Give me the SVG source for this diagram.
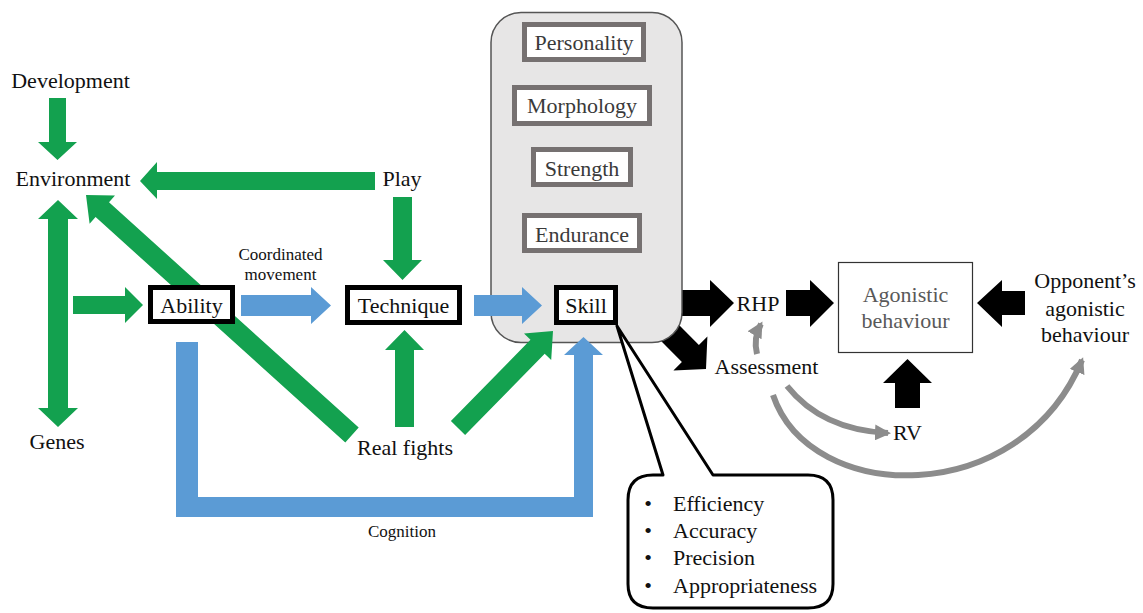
<svg xmlns="http://www.w3.org/2000/svg" width="1143" height="613" viewBox="0 0 1143 613" font-family="Liberation Serif, Times New Roman, Tinos, DejaVu Serif, Noto Serif, serif">
<style>
text{font-size:22px;fill:#111;text-anchor:middle}
.sm{font-size:17px}
.g{fill:#13a14f}
.b{fill:#5b9bd5}
.k{fill:#000}
.inner{fill:#fff;stroke:#767171;stroke-width:5}
.itx{fill:#3a3a3a}
.node{fill:#fff;stroke:#000;stroke-width:5}
.cur{fill:none;stroke:#8c8c8c;stroke-width:6}
.lft{text-anchor:start}
.agt{fill:#595959}
</style>
<defs>
<marker id="gh" markerUnits="userSpaceOnUse" viewBox="0 0 16 16" markerWidth="16" markerHeight="16" refX="13" refY="8" orient="auto">
<path d="M0,0 L16,8 L0,16 Z" fill="#8c8c8c"/>
</marker>
</defs>
<rect width="1143" height="613" fill="#fff"/>

<g id="connectors-back">
<polygon class="k" points="706,369 707.4,336.4 698.9,344.9 667.1,313.1 650.1,330.1 681.9,361.9 673.4,370.4"/>
<path class="k" d="M676 290 L710 290 L710 280 L734 303 L710 327 L710 316 L676 316 Z"/>
</g>

<g id="panel">
<rect x="491" y="12.5" width="191" height="330" rx="30" fill="#e7e6e6" stroke="#555" stroke-width="1.5"/>
</g>
<g font-family="Liberation Serif, Times New Roman, Tinos, DejaVu Serif, Noto Serif, serif">
<g id="personality"><rect class="inner" x="524.5" y="24.5" width="119" height="35"/><text class="itx" x="584" y="50">Personality</text></g>
<g id="morphology"><rect class="inner" x="514.5" y="87.5" width="135" height="36"/><text class="itx" x="582" y="113">Morphology</text></g>
<g id="strength"><rect class="inner" x="533.5" y="149.5" width="97" height="35"/><text class="itx" x="582" y="176">Strength</text></g>
<g id="endurance"><rect class="inner" x="524.5" y="215.5" width="115" height="35"/><text class="itx" x="582" y="242">Endurance</text></g>

<g id="connectors">
<path class="g" d="M49 98 L66 98 L66 142 L77 142 L57.5 160 L38 142 L49 142 Z"/>
<path class="g" d="M375 172 L157 172 L157 162 L140 181 L157 199 L157 190 L375 190 Z"/>
<path class="g" d="M58 200 L78 219 L68 219 L68 408 L78 408 L58 427 L38 408 L48 408 L48 219 L38 219 Z"/>
<path class="g" d="M73 296 L125 296 L125 287 L143 305 L125 323 L125 314 L73 314 Z"/>
<path class="g" d="M393 197 L412 197 L412 260 L422 260 L402.5 280 L383 260 L393 260 Z"/>
<path class="g" d="M395 427 L414 427 L414 350 L424 350 L404.5 330 L385 350 L395 350 Z"/>
<polygon class="g" points="86,195 115,195.6 109,202.3 358.7,427.6 345.3,442.4 95.6,217.1 89.6,223.8"/>
<polygon class="g" points="553,331 551.2,360 544.7,353.7 465.1,435 450.9,421 530.5,339.7 524,333.4"/>
<path class="b" d="M241 295 L311 295 L311 287 L331 305.5 L311 324 L311 316 L241 316 Z"/>
<path class="b" d="M474 295 L522 295 L522 287 L542 305.5 L522 324 L522 316 L474 316 Z"/>
<path class="b" d="M176 342 L198 342 L198 497 L574 497 L574 355 L564 355 L583.5 337 L603 355 L593 355 L593 517 L176 517 Z"/>
<path class="k" d="M786 290 L810 290 L810 280 L834 303 L810 327 L810 316 L786 316 Z"/>
<path class="k" d="M1025 291 L1002 291 L1002 280 L977 303 L1002 327 L1002 315 L1025 315 Z"/>
<path class="k" d="M895 408 L920 408 L920 383 L932 383 L907.5 359 L883 383 L895 383 Z"/>
<path class="cur" d="M757 354 Q 753 338 761 324" marker-end="url(#gh)"/>
<path class="cur" d="M787 386 Q 822 430 888 433" marker-end="url(#gh)"/>
<path class="cur" d="M773 395 C 810 505, 1020 510, 1082 360" marker-end="url(#gh)"/>
<text class="sm" x="280.5" y="260">Coordinated</text>
<text class="sm" x="280.5" y="280">movement</text>
<text class="sm" x="402" y="537">Cognition</text>
</g>

<g id="development"><text x="70.5" y="88">Development</text></g>
<g id="environment"><text x="73" y="186">Environment</text></g>
<g id="play"><text x="402" y="186">Play</text></g>
<g id="genes"><text x="57" y="449">Genes</text></g>
<g id="real-fights"><text x="405" y="455">Real fights</text></g>
<g id="ability"><rect class="node" x="150.5" y="287.5" width="82" height="34"/><text x="191.5" y="313">Ability</text></g>
<g id="technique"><rect class="node" x="347.5" y="287.5" width="112" height="35"/><text x="403.5" y="313">Technique</text></g>
<g id="skill"><rect class="node" x="556.5" y="287.5" width="59" height="35"/><text x="586" y="313">Skill</text></g>
<g id="rhp"><text x="758" y="311">RHP</text></g>
<g id="assessment"><text x="766.5" y="374">Assessment</text></g>
<g id="rv"><text x="907.5" y="440">RV</text></g>
<g id="agonistic"><rect x="838.5" y="262.5" width="134" height="90" fill="#fff" stroke="#333" stroke-width="1.2"/><text class="agt" x="905.5" y="302">Agonistic</text><text class="agt" x="905.5" y="328">behaviour</text></g>
<g id="opponent"><text x="1085" y="288">Opponent&#8217;s</text><text x="1085" y="316">agonistic</text><text x="1085" y="342">behaviour</text></g>
<g id="skill-callout">
<path d="M653 475 L663 475 L617 326 L713 475 L808 475 Q833 475 833 500 L833 584 Q833 608 808 608 L653 608 Q628 608 628 584 L628 500 Q628 475 653 475 Z" fill="#fff" stroke="#000" stroke-width="3" stroke-linejoin="round"/>
<text x="648" y="511">&#8226;</text><text class="lft" x="673" y="511">Efficiency</text>
<text x="648" y="538">&#8226;</text><text class="lft" x="673" y="538">Accuracy</text>
<text x="648" y="565">&#8226;</text><text class="lft" x="673" y="565">Precision</text>
<text x="648" y="593">&#8226;</text><text class="lft" x="673" y="593">Appropriateness</text>
</g>
</g>
</svg>
